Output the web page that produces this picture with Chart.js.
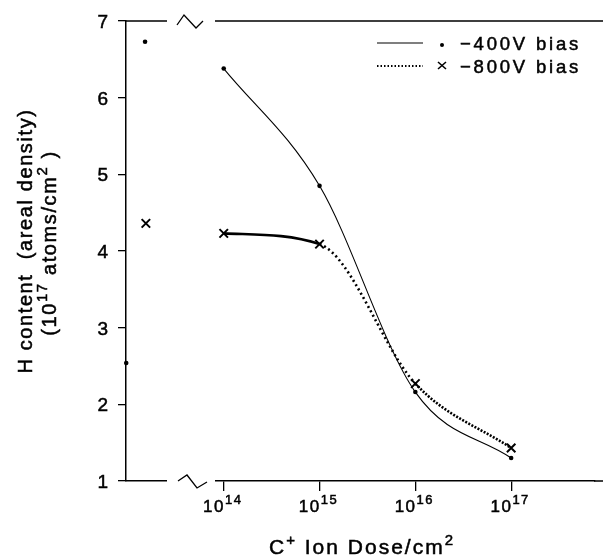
<!DOCTYPE html>
<html>
<head>
<meta charset="utf-8">
<script src="https://cdn.jsdelivr.net/npm/chart.js@4/dist/chart.umd.min.js"></script>
<style>
html,body{margin:0;padding:0;background:#fff;}
#wrap{width:603px;height:557px;}
</style>
</head>
<body>
<div id="wrap"><canvas id="c" width="603" height="557"></canvas></div>
<script>
// ---- data ----
const doses = [1e14, 1e15, 1e16, 1e17];
const h400 = [6.38, 4.85, 2.16, 1.30];
const h800 = [4.23, 4.09, 2.27, 1.43];
const refDose400 = [1.51e13, 9.6e12];
const refH400 = [6.73, 2.54];
const refDose800 = [1.54e13];
const refH800 = [4.36];
const yTicks = [1, 2, 3, 4, 5, 6, 7];
const xTickExps = [14, 15, 16, 17];
const xMin = 9.55e12, xMax = 7.5e17;
const legendLabels = ['\u2212400V bias', '\u2212800V bias'];
const xTitleParts = [['C', false], ['+', true], [' Ion Dose/cm', false], ['2', true]];
const yTitle1 = [['H content  (areal density)', false]];
const yTitle2 = [['(10', false], ['17', true], [' atoms/cm', false], ['2', true], [' )', false]];

const FONT = '"Liberation Sans", Arial, Helvetica, sans-serif';

function pts(xs, ys) { return xs.map((x, i) => ({x: x, y: ys[i]})); }

function drawParts(ctx, parts, x, y, size, supSize, rise, spacing, align) {
  let total = 0;
  const widths = parts.map(p => {
    ctx.font = (p[1] ? supSize : size) + 'px ' + FONT;
    ctx.letterSpacing = spacing + 'px';
    const w = ctx.measureText(p[0]).width;
    total += w;
    return w;
  });
  let cx = align === 'center' ? x - total / 2 : (align === 'right' ? x - total : x);
  ctx.textAlign = 'left';
  ctx.textBaseline = 'alphabetic';
  ctx.lineWidth = 0.5;
  parts.forEach((p, i) => {
    ctx.font = (p[1] ? supSize : size) + 'px ' + FONT;
    ctx.letterSpacing = spacing + 'px';
    const yy = p[1] ? y - rise : y;
    ctx.fillText(p[0], cx, yy);
    ctx.strokeText(p[0], cx, yy);
    cx += widths[i];
  });
  ctx.letterSpacing = '0px';
}

const decor = {
  id: 'decor',
  afterDraw(chart) {
    const ctx = chart.ctx;
    const a = chart.chartArea;
    const xs = chart.scales.x, ys = chart.scales.y;
    const W = chart.width;
    ctx.save();
    ctx.fillStyle = '#000';
    ctx.strokeStyle = '#000';
    // top frame line and extension of bottom line to canvas edge
    ctx.lineWidth = 1.5;
    ctx.beginPath();
    ctx.moveTo(a.left, a.top);
    ctx.lineTo(W, a.top);
    ctx.moveTo(a.right - 1, a.bottom);
    ctx.lineTo(W, a.bottom);
    ctx.stroke();
    // axis break gaps
    ctx.fillStyle = '#fff';
    ctx.fillRect(167, a.top - 3, 48, 6);
    ctx.fillRect(167, a.bottom - 3, 48, 6);
    ctx.fillStyle = '#000';
    ctx.lineWidth = 1.3;
    ctx.beginPath();
    ctx.moveTo(177, a.top + 4); ctx.lineTo(184, a.top - 6); ctx.lineTo(196, a.top + 7); ctx.lineTo(203, a.top);
    ctx.stroke();
    ctx.beginPath();
    ctx.moveTo(178, a.bottom); ctx.lineTo(187, a.bottom - 6); ctx.lineTo(197, a.bottom + 7); ctx.lineTo(207, a.bottom + 1);
    ctx.stroke();
    // y tick labels
    yTicks.forEach(v => {
      drawParts(ctx, [[String(v), false]], 108, ys.getPixelForValue(v) + 7, 19, 13, 0, 0, 'right');
    });
    // x tick labels
    xTickExps.forEach(e => {
      const px = xs.getPixelForValue(Math.pow(10, e));
      drawParts(ctx, [['10', false], [String(e), true]], px - 1, 512, 17, 13, 8, 1.5, 'center');
    });
    // x title
    drawParts(ctx, xTitleParts, 362, 554, 21, 15, 9, 2, 'center');
    // y title
    ctx.save();
    ctx.translate(32, 241);
    ctx.rotate(-Math.PI / 2);
    drawParts(ctx, yTitle1, 0, 0, 20, 15, 9, 1.6, 'center');
    ctx.restore();
    ctx.save();
    ctx.translate(56, 243);
    ctx.rotate(-Math.PI / 2);
    drawParts(ctx, yTitle2, 0, 0, 20, 15, 9, 1.6, 'center');
    ctx.restore();
    // legend
    ctx.lineWidth = 1.2;
    ctx.beginPath(); ctx.moveTo(377, 43); ctx.lineTo(423, 43); ctx.stroke();
    ctx.beginPath(); ctx.arc(442, 45, 2, 0, Math.PI * 2); ctx.fill();
    ctx.lineWidth = 2;
    ctx.setLineDash([1.5, 2]);
    ctx.beginPath(); ctx.moveTo(377, 66); ctx.lineTo(423, 66); ctx.stroke();
    ctx.setLineDash([]);
    ctx.lineWidth = 1.6;
    ctx.beginPath();
    ctx.moveTo(438, 62); ctx.lineTo(446, 69);
    ctx.moveTo(446, 62); ctx.lineTo(438, 69);
    ctx.stroke();
    drawParts(ctx, [[legendLabels[0], false]], 460, 50, 18.5, 13, 0, 2.8, 'left');
    drawParts(ctx, [[legendLabels[1], false]], 460, 73, 18.5, 13, 0, 2.8, 'left');
    ctx.restore();
  }
};

new Chart(document.getElementById('c'), {
  type: 'line',
  data: {
    datasets: [
      {
        label: legendLabels[0],
        data: pts(doses, h400),
        borderColor: '#000', backgroundColor: '#000',
        borderWidth: 1.1,
        cubicInterpolationMode: 'monotone',
        pointStyle: 'circle', pointRadius: 2.3, pointBorderWidth: 0,
        clip: false
      },
      {
        label: legendLabels[1],
        data: pts(doses, h800),
        borderColor: '#000', backgroundColor: '#000',
        borderWidth: 2.6,
        cubicInterpolationMode: 'monotone',
        segment: {
          borderDash: ctx => ctx.p0DataIndex === 0 ? [] : (ctx.p0DataIndex === 1 ? [2, 3] : [2, 1.5])
        },
        pointStyle: 'crossRot', pointRadius: 6, pointBorderWidth: 2,
        clip: false
      },
      {
        label: 'ref400',
        data: pts(refDose400, refH400),
        showLine: false,
        borderColor: '#000', backgroundColor: '#000',
        pointStyle: 'circle', pointRadius: 2.3, pointBorderWidth: 0,
        clip: false
      },
      {
        label: 'ref800',
        data: pts(refDose800, refH800),
        showLine: false,
        borderColor: '#000', backgroundColor: '#000',
        pointStyle: 'crossRot', pointRadius: 6, pointBorderWidth: 2,
        clip: false
      }
    ]
  },
  options: {
    responsive: false,
    animation: false,
    devicePixelRatio: 1,
    layout: { padding: { left: 118, top: 21, right: 0, bottom: 66 } },
    plugins: { legend: { display: false }, tooltip: { enabled: false } },
    scales: {
      x: {
        type: 'logarithmic',
        min: xMin, max: xMax,
        afterBuildTicks: s => { s.ticks = xTickExps.map(e => ({ value: Math.pow(10, e) })); },
        ticks: { display: false },
        grid: { display: true, drawOnChartArea: false, drawTicks: true, tickLength: 10, color: '#000', lineWidth: 1.3 },
        border: { display: true, color: '#000', width: 1.5 }
      },
      y: {
        type: 'linear',
        min: 1, max: 7,
        afterBuildTicks: s => { s.ticks = yTicks.map(v => ({ value: v })); },
        ticks: { display: false },
        grid: { display: true, drawOnChartArea: false, drawTicks: true, tickLength: 8, color: '#000', lineWidth: 1.3 },
        border: { display: true, color: '#000', width: 1.5 }
      }
    }
  },
  plugins: [decor]
});
</script>
</body>
</html>
